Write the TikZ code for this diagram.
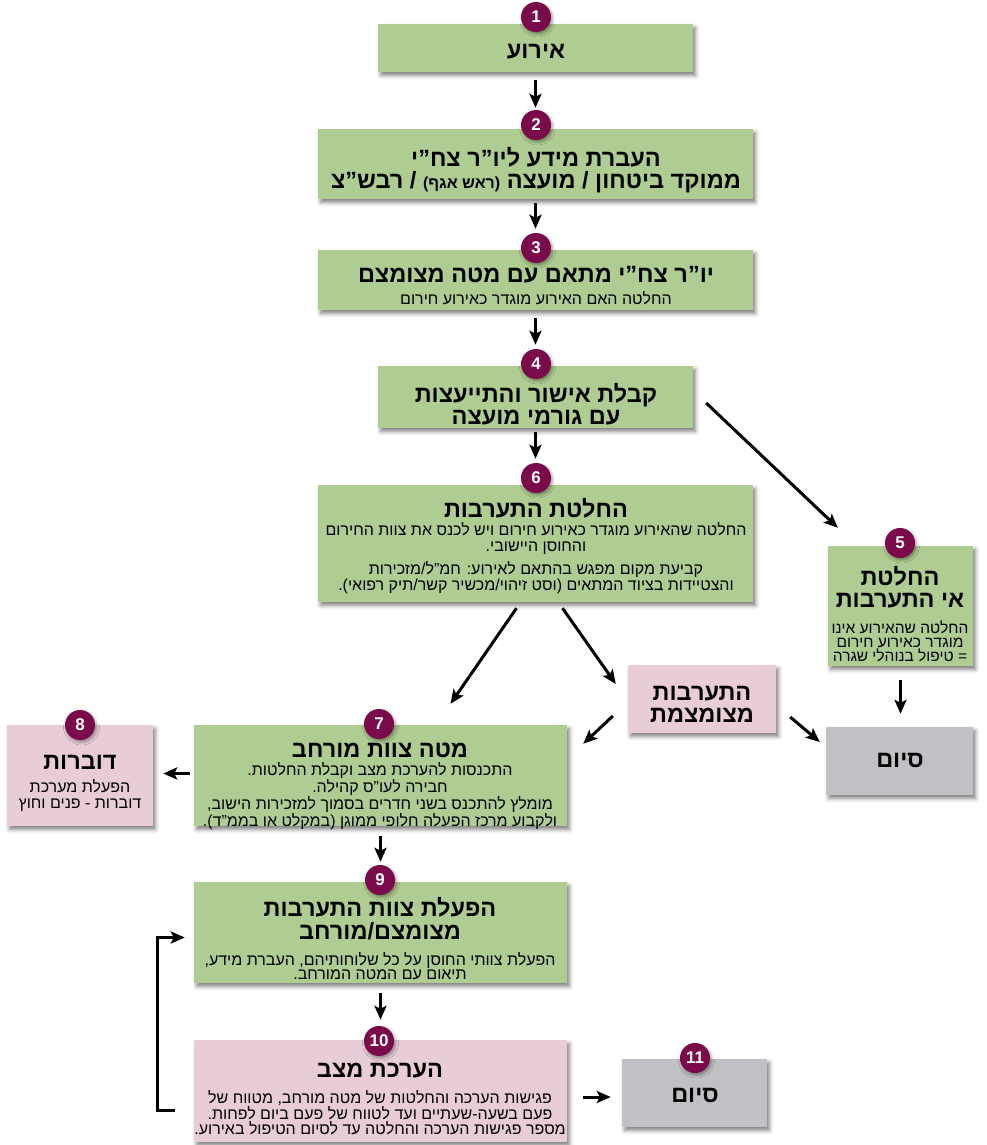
\documentclass[tikz,border=0pt]{standalone}
\usepackage{fontspec}
\setmainfont{Liberation Sans}
\newfontfamily\hebfont[Script=Hebrew]{Liberation Sans}
\TeXXeTstate=1
\usetikzlibrary{arrows.meta,shadows.blur,calc}
\newcommand{\heb}[1]{\beginR #1\endR}
\definecolor{boxgreen}{HTML}{AFCC92}
\definecolor{boxpink}{HTML}{E8CDD8}
\definecolor{boxgray}{HTML}{C0C1C4}
\definecolor{badgecol}{HTML}{7A0A4A}
\newcommand{\ttlf}{\hebfont\bfseries\fontsize{23.5}{22}\selectfont}
\newcommand{\bodyf}{\hebfont\fontsize{16}{16}\selectfont}
\tikzset{
  box/.style={rectangle, draw=none, inner sep=0pt,
    blur shadow={shadow xshift=2.5pt, shadow yshift=-3.5pt, shadow blur radius=4pt, shadow opacity=50}},
  gbox/.style={box, fill=boxgreen},
  pbox/.style={box, fill=boxpink},
  ybox/.style={box, fill=boxgray},
  ttl/.style={font=\ttlf, align=center, inner sep=0pt},
  body/.style={font=\bodyf, align=center, inner sep=0pt},
  badge/.style={circle, fill=badgecol, minimum size=30pt, inner sep=0pt, text=white,
    font=\bfseries\fontsize{17}{17}\selectfont,
    blur shadow={shadow xshift=1.5pt, shadow yshift=-2pt, shadow blur radius=3pt, shadow opacity=40}},
  arr/.style={line width=3pt, -{Stealth[length=14pt,width=12pt,inset=3pt]}}
}
\begin{document}
\begin{tikzpicture}[x=1pt,y=-1pt]
\useasboundingbox (0,0) rectangle (986,1145);
% boxes
\node[gbox, minimum width=315pt, minimum height=48pt] (b1) at (535.5,48) {};
\node[gbox, minimum width=435pt, minimum height=70pt] (b2) at (535.5,164) {};
\node[gbox, minimum width=435pt, minimum height=60pt] (b3) at (535.5,280) {};
\node[gbox, minimum width=315pt, minimum height=62pt] (b4) at (535.5,397) {};
\node[gbox, minimum width=435pt, minimum height=117pt] (b6) at (535.5,543.5) {};
\node[gbox, minimum width=145pt, minimum height=120pt] (b5) at (900.5,606) {};
\node[pbox, minimum width=148pt, minimum height=68pt] (bp) at (702,699) {};
\node[ybox, minimum width=147pt, minimum height=68pt] (bg) at (899.5,761) {};
\node[gbox, minimum width=373pt, minimum height=101pt] (b7) at (380.5,775.5) {};
\node[pbox, minimum width=146pt, minimum height=101pt] (b8) at (80,775.5) {};
\node[gbox, minimum width=373pt, minimum height=101pt] (b9) at (380.5,932.5) {};
\node[pbox, minimum width=373pt, minimum height=102pt] (b10) at (380.5,1091) {};
\node[ybox, minimum width=145pt, minimum height=68pt] (b11) at (694.5,1093) {};
% badges
\node[badge] (n1) at (536,17) {1};
\node[badge] (n2) at (536,125) {2};
\node[badge] (n3) at (536,248) {3};
\node[badge] (n4) at (536,364) {4};
\node[badge] (n6) at (536,478) {6};
\node[badge] (n5) at (900,543) {5};
\node[badge] (n7) at (379,724) {7};
\node[badge] (n8) at (80,725) {8};
\node[badge] (n9) at (380,880) {9};
\node[badge] (n10) at (379,1041) {10};
\node[badge] (n11) at (695,1058) {11};
% texts
\node[ttl] (t1) at (536,52) {\heb{אירוע}};
\node[ttl] (t2) at (536,170) {\heb{העברת מידע ליו”ר צח”י}\\
  \heb{ממוקד ביטחון / מועצה {\fontsize{16}{16}\selectfont(ראש אגף)} / רבש”צ}};
\node[ttl] (t3a) at (536,275) {\heb{יו”ר צח”י מתאם עם מטה מצומצם}};
\node[body] (t3b) at (536,298) {\heb{החלטה האם האירוע מוגדר כאירוע חירום}};
\node[ttl] (t4) at (536,404) {\heb{קבלת אישור והתייעצות}\\ \heb{עם גורמי מועצה}};
\node[ttl] (t6a) at (536,508) {\heb{החלטת התערבות}};
\node[body] (t6b) at (536,558) {\heb{החלטה שהאירוע מוגדר כאירוע חירום ויש לכנס את צוות החירום}\\
  \heb{והחוסן היישובי.}\\[6pt]
  \heb{קביעת מקום מפגש בהתאם לאירוע: חמ”ל/מזכירות}\\
  \heb{והצטיידות בציוד המתאים (וסט זיהוי/מכשיר קשר/תיק רפואי).}};
\node[ttl, font=\hebfont\bfseries\fontsize{23.5}{22.5}\selectfont] (t5a) at (900,587) {\heb{החלטת}\\ \heb{אי התערבות}};
\node[body, font=\hebfont\fontsize{15.5}{14}\selectfont] (t5b) at (900,641) {\heb{החלטה שהאירוע אינו}\\
  \heb{מוגדר כאירוע חירום}\\ \heb{= טיפול בנוהלי שגרה}};
\node[ttl] (tp) at (702,704) {\heb{התערבות}\\ \heb{מצומצמת}};
\node[ttl] (tg) at (900,760) {\heb{סיום}};
\node[ttl] (t7a) at (380,750) {\heb{מטה צוות מורחב}};
\node[body, font=\hebfont\fontsize{16}{15.5}\selectfont] (t7b) at (380,796) {\heb{התכנסות להערכת מצב וקבלת החלטות.}\\
  \heb{חבירה לעו”ס קהילה.}\\
  \heb{מומלץ להתכנס בשני חדרים בסמוך למזכירות הישוב,}\\
  \heb{ולקבוע מרכז הפעלה חלופי ממוגן (במקלט או בממ”ד).}};
\node[ttl] (t8a) at (80,762) {\heb{דוברות}};
\node[body] (t8b) at (80,795) {\heb{הפעלת מערכת}\\ \heb{דוברות - פנים וחוץ}};
\node[ttl, font=\hebfont\bfseries\fontsize{23.5}{23}\selectfont] (t9a) at (380,919) {\heb{הפעלת צוות התערבות}\\ \heb{מצומצם/מורחב}};
\node[body, font=\hebfont\fontsize{16}{14.5}\selectfont] (t9b) at (380,966) {\heb{הפעלת צוותי החוסן על כל שלוחותיהם, העברת מידע,}\\
  \heb{תיאום עם המטה המורחב.}};
\node[ttl] (t10a) at (380,1071) {\heb{הערכת מצב}};
\node[body, font=\hebfont\fontsize{16}{15.5}\selectfont] (t10b) at (380,1113) {\heb{פגישות הערכה והחלטות של מטה מורחב, מטווח של}\\
  \heb{פעם בשעה-שעתיים ועד לטווח של פעם ביום לפחות.}\\
  \heb{מספר פגישות הערכה והחלטה עד לסיום הטיפול באירוע.}};
\node[ttl] (t11) at (695,1095) {\heb{סיום}};
% arrows
\draw[arr] ([yshift=-8pt]b1.south) -- ([yshift=21pt]b2.north);
\draw[arr] ([yshift=-4pt]b2.south) -- ([yshift=21pt]b3.north);
\draw[arr] ([yshift=-8pt]b3.south) -- ([yshift=21pt]b4.north);
\draw[arr] ([yshift=-4pt]b4.south) -- ([yshift=26pt]b6.north);
\draw[arr] ($(b4.east)+(13,6)$) -- ($(b5.north west)+(10,-18)$);
\draw[arr] ($(b6.south)+(-19,6)$) -- ($(b7.north)+(70,-21)$);
\draw[arr] ($(b6.south)+(27,6)$) -- ($(bp.west)+(-12,-15)$);
\draw[arr] ($(bp.west)+(-15,17)$) -- ($(b7.north east)+(16,19)$);
\draw[arr] ($(bp.east)+(14,18)$) -- ($(bg.west)+(-6,-19)$);
\draw[arr] ($(b5.south)+(0,14)$) -- ($(bg.north)+(1,-13)$);
\draw[arr] ($(b7.west)+(-4,-2)$) -- ($(b8.east)+(10,-2)$);
\draw[arr] ([yshift=-10pt]b7.south) -- ([yshift=20pt]b9.north);
\draw[arr] ([yshift=-10pt]b9.south) -- ([yshift=20pt]b10.north);
\draw[arr] ($(b10.east)+(16,6)$) -- ($(b11.west)+(-11,4)$);
\draw[arr] ($(b10.west)+(-19,19)$) -- ++(-17,0) |- ($(b9.west)+(-9,5)$);
\end{tikzpicture}
\end{document}
